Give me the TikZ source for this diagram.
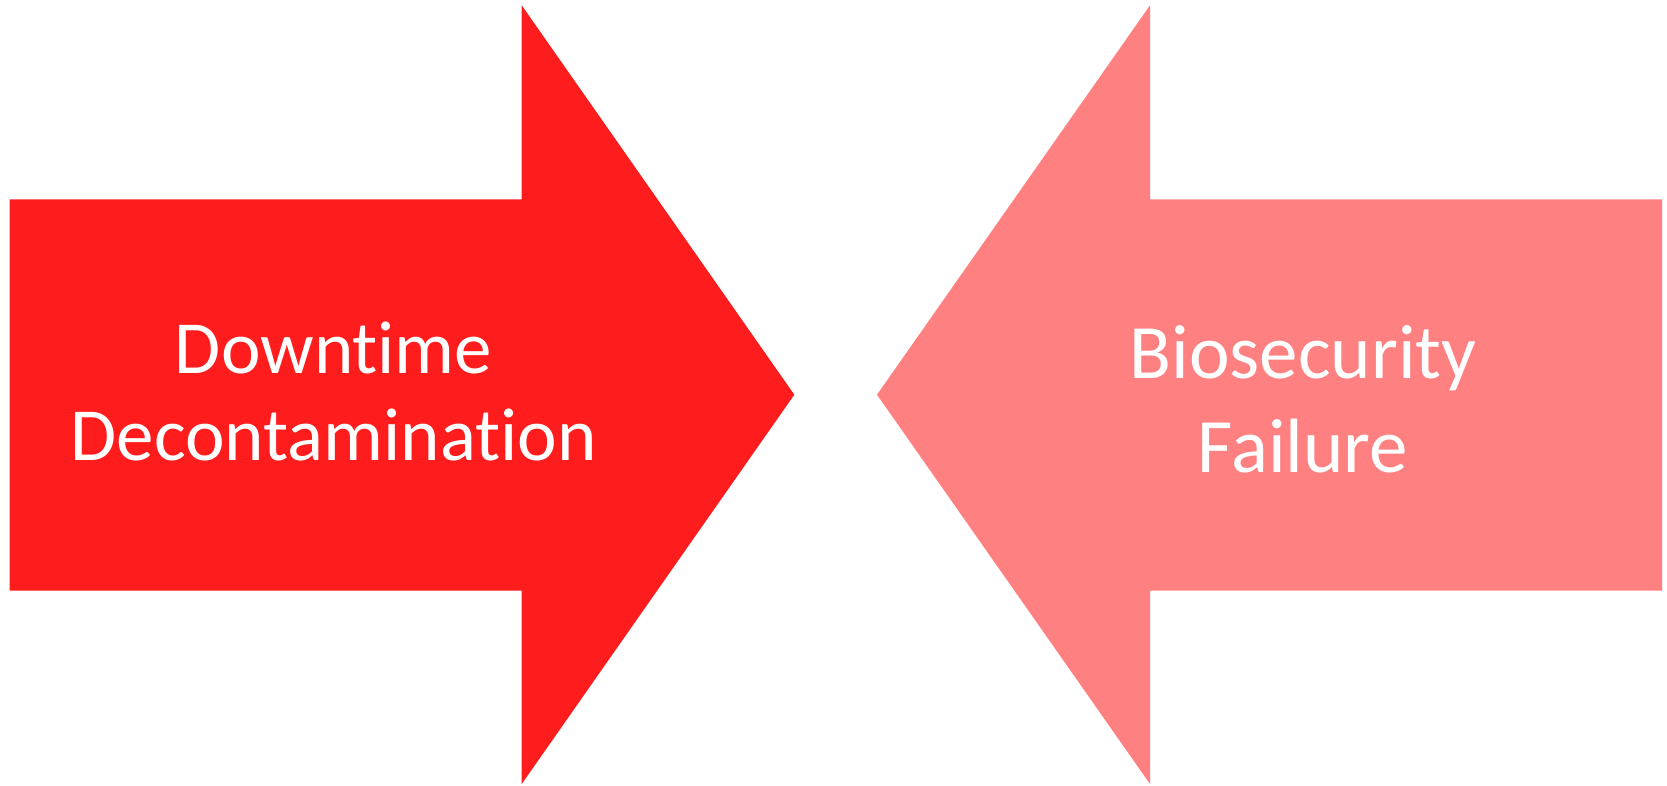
\documentclass[tikz,border=0pt]{standalone}
\usepackage{fontspec}
\setmainfont{Carlito}[Ligatures={NoCommon}]
\definecolor{arrowred}{RGB}{255,28,28}
\definecolor{arrowpink}{RGB}{255,128,128}
\begin{document}
\begin{tikzpicture}[x=1pt,y=-1pt,
  label text/.style={text=white,inner sep=0pt,anchor=base},
  left text/.style={label text,font=\fontsize{75}{87}\selectfont},
  right text/.style={label text,font=\fontsize{77}{93}\selectfont}]
\useasboundingbox (0,0) rectangle (1667,785);
% right-pointing block arrow
\fill[arrowred] (9.5,199.3) -- (521.7,199.3) -- (521.7,5.3) -- (794.3,394.7)
  -- (521.7,784) -- (521.7,590.7) -- (9.5,590.7) -- cycle;
% left-pointing block arrow
\fill[arrowpink] (1662,199.3) -- (1150,199.3) -- (1150,5.3) -- (877,394.7)
  -- (1150,784) -- (1150,590.7) -- (1662,590.7) -- cycle;
% labels, one node per line
\node[left text] (down1) at (333.6,373) {Downtime};
\node[left text] (down2) at (333.6,460) {Decontamination};
\node[right text] (bio1) at (1303,378.5) {Biosecurity};
\node[right text] (bio2) at (1303,472) {Failure};
\end{tikzpicture}
\end{document}
